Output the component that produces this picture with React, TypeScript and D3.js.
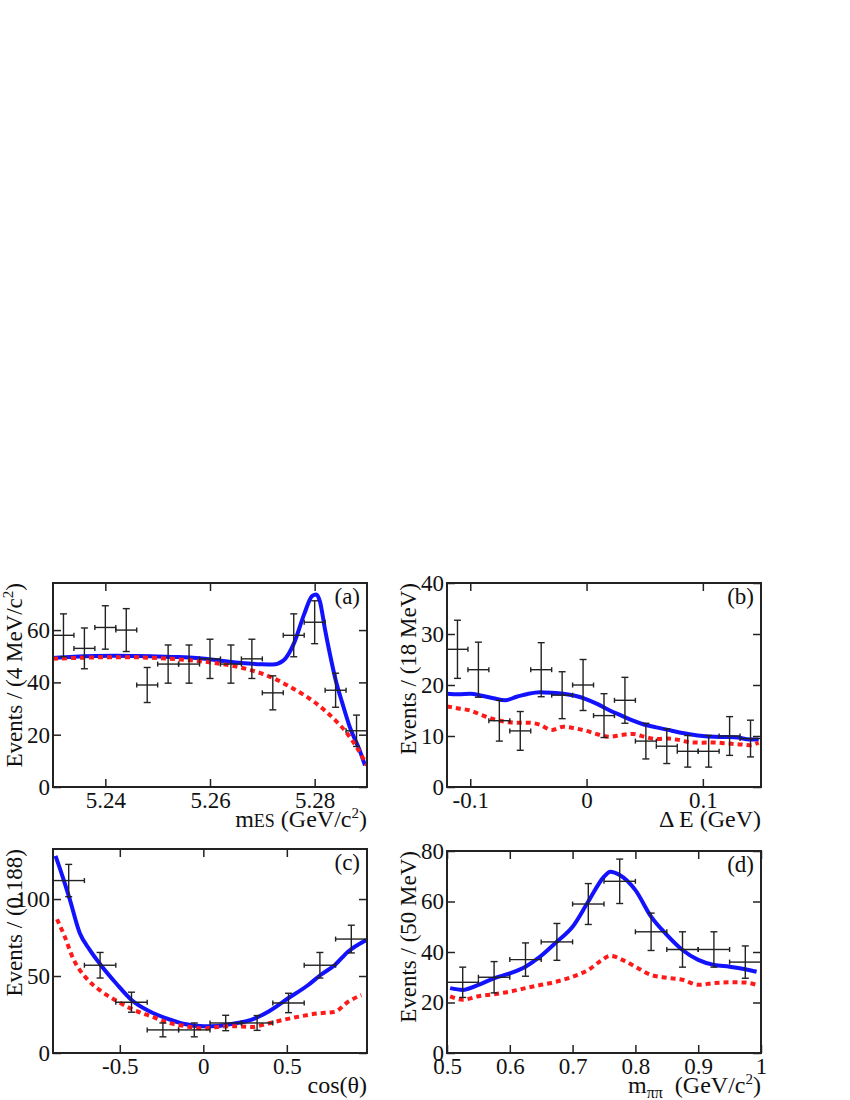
import React, { useEffect, useRef } from 'react';
import * as d3 from 'd3';

type Pt = [number, number];

// (a) mES distribution, 4 MeV bins
const mesCenters = [5.232, 5.236, 5.24, 5.244, 5.248, 5.252, 5.256, 5.26, 5.264, 5.268, 5.272, 5.276, 5.28, 5.284, 5.288];
const mesCounts = [58, 53, 61, 60, 39, 47, 47, 49, 47, 49, 36, 58, 63, 37, 21.5];
const mesErrors = [8.2, 7.8, 8.3, 8.2, 6.7, 7.3, 7.3, 7.5, 7.3, 7.5, 6.5, 8.2, 8.2, 6.5, 6];
const mesTotal: Pt[] = [
  [5.23, 49.3], [5.234, 49.8], [5.238, 50.1], [5.242, 50.2], [5.246, 50.1], [5.25, 49.9],
  [5.254, 49.7], [5.258, 49.2], [5.262, 48.3], [5.266, 47.4], [5.27, 46.9], [5.272, 46.8],
  [5.274, 48.3], [5.276, 54.7], [5.278, 66.1], [5.2795, 73], [5.2803, 73.6], [5.281, 71],
  [5.282, 60], [5.283, 50], [5.284, 41], [5.2853, 32], [5.2867, 23], [5.2886, 14], [5.2896, 8.3],
];
const mesBkg: Pt[] = [
  [5.23, 49], [5.235, 49.4], [5.24, 49.6], [5.245, 49.6], [5.25, 49.3], [5.254, 48.8],
  [5.258, 48.1], [5.262, 47.1], [5.266, 45.6], [5.27, 43.3], [5.272, 41.7], [5.276, 37.5],
  [5.28, 32.4], [5.284, 25.4], [5.286, 21], [5.288, 15.3], [5.29, 8.3],
];
const mesTicksX = [5.24, 5.26, 5.28];
const mesTicksY = [0, 20, 40, 60];

// (b) Delta E distribution, 18 MeV bins
const deCenters = [-0.111, -0.093, -0.075, -0.057, -0.039, -0.021, -0.003, 0.015, 0.033, 0.051, 0.069, 0.087, 0.105, 0.123, 0.141];
const deCounts = [27, 23, 13, 11, 23, 18, 20, 14, 17, 9, 8, 7, 7, 10, 9.5];
const deErrors = [5.7, 5.4, 4.0, 3.8, 5.3, 4.6, 5.0, 4.3, 4.5, 3.5, 3.4, 3.1, 3.1, 3.8, 3.6];
const deTotal: Pt[] = [
  [-0.12, 18.3], [-0.11, 18.2], [-0.1, 18.3], [-0.09, 17.9], [-0.08, 17.4], [-0.07, 17.0],
  [-0.06, 17.7], [-0.05, 18.3], [-0.04, 18.6], [-0.03, 18.5], [-0.02, 18.3], [-0.01, 17.9],
  [0, 17.2], [0.01, 16.2], [0.02, 15.0], [0.03, 14.0], [0.04, 13.0], [0.05, 12.2], [0.06, 11.7],
  [0.07, 11.2], [0.08, 10.7], [0.09, 10.3], [0.1, 10.0], [0.11, 9.85], [0.12, 9.8], [0.13, 9.7],
  [0.14, 9.3], [0.148, 9.3],
];
const deBkg: Pt[] = [
  [-0.12, 15.8], [-0.11, 15.4], [-0.1, 15.0], [-0.09, 14.1], [-0.08, 13.3], [-0.07, 12.8],
  [-0.06, 12.6], [-0.05, 12.6], [-0.04, 12.2], [-0.03, 11.2], [-0.02, 11.8], [-0.01, 11.5],
  [0, 11.0], [0.01, 10.3], [0.02, 9.85], [0.03, 10.2], [0.04, 10.4], [0.05, 9.85], [0.06, 9.4],
  [0.07, 9.5], [0.08, 9.2], [0.09, 8.75], [0.1, 8.7], [0.11, 8.75], [0.12, 8.55], [0.13, 8.4],
  [0.14, 8.2], [0.148, 8.7],
];
const deTicksX = [-0.1, 0, 0.1];
const deTicksY = [0, 10, 20, 30, 40];

// (c) cos(theta) distribution, 0.188 bins
const cosCenters = [-0.806, -0.618, -0.43, -0.242, -0.054, 0.134, 0.322, 0.51, 0.698, 0.886];
const cosCounts = [112, 57, 33, 15, 15, 19.5, 19.5, 32.5, 57, 74];
const cosErrors = [10.5, 8.3, 6.5, 4.5, 4.5, 5, 4.8, 6.3, 8.3, 9];
const cosTotal: Pt[] = [
  [-0.885, 128], [-0.85, 117], [-0.8, 100], [-0.74, 78], [-0.68, 67], [-0.62, 58], [-0.52, 45],
  [-0.43, 34.5], [-0.32, 27], [-0.22, 22.5], [-0.12, 19], [0, 17.4], [0.086, 17.6], [0.186, 19.1],
  [0.286, 21.5], [0.386, 26.7], [0.506, 35.4], [0.626, 44], [0.706, 51], [0.786, 57],
  [0.866, 65.8], [0.976, 73.4],
];
const cosBkg: Pt[] = [
  [-0.876, 86.9], [-0.83, 75.6], [-0.78, 61.5], [-0.7, 48.5], [-0.62, 40.8], [-0.52, 33.9],
  [-0.414, 27.8], [-0.314, 23.9], [-0.214, 19.8], [-0.114, 17.6], [0, 15.9], [0.086, 16.9],
  [0.186, 17.4], [0.286, 16.9], [0.386, 19.1], [0.486, 21.7], [0.586, 23.9], [0.686, 25.7],
  [0.786, 26.7], [0.866, 33.2], [0.946, 37.6],
];
const cosTicksX = [-0.5, 0, 0.5];
const cosTicksY = [0, 50, 100];

// (d) m(pi pi) distribution, 50 MeV bins
const mppCenters = [0.525, 0.575, 0.625, 0.675, 0.725, 0.775, 0.825, 0.875, 0.925, 0.975];
const mppCounts = [28, 30, 37, 44, 59, 68, 48, 41, 41, 36];
const mppErrors = [6, 6.2, 6.6, 7.3, 8.1, 8.8, 7.4, 7, 7, 6.4];
const mppTotal: Pt[] = [
  [0.505, 25.7], [0.525, 25], [0.55, 27], [0.575, 29.6], [0.6, 31.5], [0.625, 34.2], [0.65, 38.5],
  [0.675, 44.1], [0.7, 50], [0.725, 60], [0.75, 69.8], [0.76, 71.8], [0.775, 70.5], [0.8, 64.5],
  [0.825, 54], [0.85, 46.8], [0.875, 40.8], [0.9, 36.9], [0.925, 34.9], [0.95, 34.2],
  [0.975, 33.2], [0.993, 32.2],
];
const mppBkg: Pt[] = [
  [0.505, 22.4], [0.525, 21.1], [0.55, 22.5], [0.575, 23.3], [0.6, 24.3], [0.625, 25.7],
  [0.65, 27], [0.675, 28.3], [0.7, 30.2], [0.725, 32.9], [0.745, 36.5], [0.76, 38.5],
  [0.78, 36.8], [0.8, 34.2], [0.825, 30.9], [0.85, 29.8], [0.875, 29], [0.9, 27], [0.925, 27.7],
  [0.95, 28], [0.975, 27.9], [0.993, 27],
];
const mppTicksX = [0.5, 0.6, 0.7, 0.8, 0.9, 1];
const mppTicksY = [0, 20, 40, 60, 80];

interface Run { text: string; size?: number; dy?: number; dx?: number }

interface Panel {
  tag: string;
  box: { left: number; right: number; top: number; bottom: number };
  xDomain: [number, number];
  yDomain: [number, number];
  xTicks: number[];
  yTicks: number[];
  halfWidth: number;
  centers: number[];
  counts: number[];
  errors: number[];
  total: Pt[];
  bkg: Pt[];
  xTitle: Run[];
  yTitle: Run[];
}

const panels: Panel[] = [
  {
    tag: 'a',
    box: { left: 53, right: 367, top: 583, bottom: 787 },
    xDomain: [5.23, 5.29], yDomain: [0, 78],
    xTicks: mesTicksX, yTicks: mesTicksY, halfWidth: 0.002,
    centers: mesCenters, counts: mesCounts, errors: mesErrors, total: mesTotal, bkg: mesBkg,
    xTitle: [{ text: 'm' }, { text: 'ES', size: 18 }, { text: ' (GeV/c', size: 24 }, { text: '2', size: 15, dy: -9 }, { text: ')', size: 24, dy: 9 }],
    yTitle: [{ text: 'Events / (4 MeV/c' }, { text: '2', size: 15, dy: -9 }, { text: ')', size: 23, dy: 9 }],
  },
  {
    tag: 'b',
    box: { left: 447, right: 761, top: 583, bottom: 787 },
    xDomain: [-0.12, 0.15], yDomain: [0, 40],
    xTicks: deTicksX, yTicks: deTicksY, halfWidth: 0.009,
    centers: deCenters, counts: deCounts, errors: deErrors, total: deTotal, bkg: deBkg,
    xTitle: [{ text: '\u0394 E (GeV)' }],
    yTitle: [{ text: 'Events / (18 MeV)' }],
  },
  {
    tag: 'c',
    box: { left: 53, right: 367, top: 849, bottom: 1053 },
    xDomain: [-0.9, 0.98], yDomain: [0, 132.5],
    xTicks: cosTicksX, yTicks: cosTicksY, halfWidth: 0.094,
    centers: cosCenters, counts: cosCounts, errors: cosErrors, total: cosTotal, bkg: cosBkg,
    xTitle: [{ text: 'cos(\u03b8)' }],
    yTitle: [{ text: 'Events / (0.188)' }],
  },
  {
    tag: 'd',
    box: { left: 447, right: 761, top: 851, bottom: 1053 },
    xDomain: [0.5, 1], yDomain: [0, 80],
    xTicks: mppTicksX, yTicks: mppTicksY, halfWidth: 0.025,
    centers: mppCenters, counts: mppCounts, errors: mppErrors, total: mppTotal, bkg: mppBkg,
    xTitle: [{ text: 'm' }, { text: '\u03c0\u03c0', size: 16, dy: 5 }, { text: '(GeV/c', size: 24, dy: -5, dx: 12 }, { text: '2', size: 15, dy: -9 }, { text: ')', size: 24, dy: 9 }],
    yTitle: [{ text: 'Events / (50 MeV)' }],
  },
];

const FONT = '"Liberation Serif", "Times New Roman", serif';
const INK = '#222';

function addRuns(t: d3.Selection<SVGTextElement, unknown, null, undefined>, runs: Run[]) {
  runs.forEach((r) => {
    const s = t.append('tspan').text(r.text);
    if (r.size) s.attr('font-size', r.size);
    if (r.dy) s.attr('dy', r.dy);
    if (r.dx) s.attr('dx', r.dx);
  });
}

function drawPanel(svg: d3.Selection<SVGSVGElement, unknown, null, undefined>, p: Panel) {
  const { left, right, top, bottom } = p.box;
  const x = d3.scaleLinear().domain(p.xDomain).range([left, right]);
  const y = d3.scaleLinear().domain(p.yDomain).range([bottom, top]);
  const g = svg.append('g');

  const clipId = `clip-${p.tag}`;
  g.append('clipPath').attr('id', clipId)
    .append('rect').attr('x', left).attr('y', top).attr('width', right - left).attr('height', bottom - top);

  const line = d3.line<Pt>().x((d) => x(d[0])).y((d) => y(d[1])).curve(d3.curveMonotoneX);

  // fit curves: total (solid blue), background (dashed red)
  g.append('path').datum(p.total).attr('d', line).attr('fill', 'none')
    .attr('stroke', '#1212ff').attr('stroke-width', 4).attr('clip-path', `url(#${clipId})`);
  g.append('path').datum(p.bkg).attr('d', line).attr('fill', 'none')
    .attr('stroke', '#ff1a1a').attr('stroke-width', 4).attr('stroke-dasharray', '5,4')
    .attr('clip-path', `url(#${clipId})`);

  // data points with error bars
  const pts = g.append('g').attr('stroke', INK).attr('stroke-width', 1.4).attr('fill', 'none');
  p.centers.forEach((c, i) => {
    const v = p.counts[i];
    const e = p.errors[i];
    const x0 = x(c - p.halfWidth), x1 = x(c + p.halfWidth), xc = x(c);
    const yc = y(v), y0 = y(v - e), y1 = y(v + e);
    const segs: [number, number, number, number][] = [
      [x0, yc, x1, yc], [xc, y0, xc, y1],
      [x0, yc - 2.5, x0, yc + 2.5], [x1, yc - 2.5, x1, yc + 2.5],
      [xc - 3.5, y0, xc + 3.5, y0], [xc - 3.5, y1, xc + 3.5, y1],
    ];
    segs.forEach((s) => {
      pts.append('line').attr('x1', s[0]).attr('y1', s[1]).attr('x2', s[2]).attr('y2', s[3]);
    });
  });

  const fmt = (d: d3.NumberValue) => String(+d);
  const style = (a: d3.Selection<SVGGElement, unknown, null, undefined>) => {
    a.select('.domain').remove();
    a.attr('font-family', FONT).attr('font-size', 23).attr('color', INK);
    a.selectAll('line').attr('stroke-width', 1.5);
    a.selectAll('text').attr('fill', '#111');
  };

  g.append('g').attr('transform', `translate(0,${bottom})`)
    .call(d3.axisBottom(x).tickValues(p.xTicks).tickSize(-8).tickPadding(5).tickFormat(fmt))
    .call(style);
  g.append('g').attr('transform', `translate(0,${top})`)
    .call(d3.axisTop(x).tickValues(p.xTicks).tickSize(-8).tickFormat(() => ''))
    .call(style);
  g.append('g').attr('transform', `translate(${left},0)`)
    .call(d3.axisLeft(y).tickValues(p.yTicks).tickSize(-8).tickPadding(3).tickFormat(fmt))
    .call(style);
  g.append('g').attr('transform', `translate(${right},0)`)
    .call(d3.axisRight(y).tickValues(p.yTicks).tickSize(-8).tickFormat(() => ''))
    .call(style);

  // frame
  g.append('rect').attr('x', left).attr('y', top).attr('width', right - left).attr('height', bottom - top)
    .attr('fill', 'none').attr('stroke', INK).attr('stroke-width', 2);

  // panel tag
  g.append('text').attr('x', right - 7).attr('y', top + 21).attr('text-anchor', 'end')
    .attr('font-family', FONT).attr('font-size', 23).attr('fill', '#111').text(`(${p.tag})`);

  const xt = g.append('text').attr('x', right).attr('y', bottom + 40).attr('text-anchor', 'end')
    .attr('font-family', FONT).attr('font-size', 24).attr('fill', '#111');
  addRuns(xt, p.xTitle);

  const yt = g.append('text').attr('transform', `translate(${left - 31},${top}) rotate(-90)`)
    .attr('text-anchor', 'end').attr('font-family', FONT).attr('font-size', 23).attr('fill', '#111');
  addRuns(yt, p.yTitle);
}

const App: React.FC = () => {
  const ref = useRef<SVGSVGElement | null>(null);

  useEffect(() => {
    if (!ref.current) return;
    const svg = d3.select(ref.current);
    svg.selectAll('*').remove();
    panels.forEach((p) => drawPanel(svg, p));
  }, []);

  return (
    <svg
      ref={ref}
      width={850}
      height={1100}
      style={{ position: 'absolute', left: 0, top: 0, background: '#fff' }}
    />
  );
};

export default App;
